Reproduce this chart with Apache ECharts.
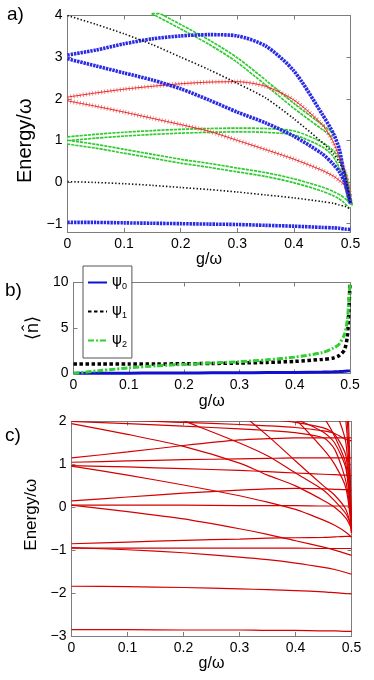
<!DOCTYPE html>
<html>
<head>
<meta charset="utf-8">
<script src="https://cdn.jsdelivr.net/npm/echarts@6/dist/echarts.min.js"></script>
<style>
  html, body { margin: 0; padding: 0; background: #fff; }
  #chart { width: 374px; height: 680px; }
</style>
</head>
<body>
<div id="chart"></div>
<script>
// ---- panel a) energy levels, values on the gA grid ----
const gA = [0, 0.05, 0.1, 0.15, 0.2, 0.25, 0.3, 0.35, 0.4, 0.45, 0.47, 0.48, 0.49, 0.5];
const blueGround = [-0.97, -0.97, -0.98, -0.99, -1.0, -1.01, -1.02, -1.04, -1.06, -1.09, -1.1, -1.11, -1.13, -1.14];
const blueUpper = [3.05, 3.17, 3.32, 3.44, 3.51, 3.54, 3.51, 3.27, 2.67, 1.63, 1.16, 0.8, 0.1, -0.5];
const blueLower = [2.96, 2.79, 2.62, 2.45, 2.24, 1.97, 1.68, 1.42, 1.1, 0.68, 0.42, 0.25, -0.02, -0.52];
const redUpper = [2.04, 2.14, 2.23, 2.3, 2.36, 2.4, 2.41, 2.3, 1.97, 1.38, 0.95, 0.6, 0.25, -0.37];
const redLower = [1.95, 1.82, 1.68, 1.53, 1.38, 1.22, 1.0, 0.78, 0.55, 0.28, 0.14, 0.04, -0.08, -0.4];
const greenUpper = [1.04, 1.1, 1.15, 1.19, 1.22, 1.24, 1.25, 1.24, 1.18, 0.9, 0.68, 0.45, 0.15, -0.58];
const greenLower = [0.96, 0.86, 0.74, 0.62, 0.5, 0.4, 0.29, 0.18, 0.03, -0.17, -0.28, -0.35, -0.45, -0.6];
const greenTop = [null, null, null, 4.09, 3.73, 3.36, 2.93, 2.39, 1.83, 1.32, 1.12, null, null, null];
const blackTop = [4.0, 3.79, 3.56, 3.3, 3.0, 2.7, 2.37, 2.02, 1.52, 0.95, 0.68, 0.48, 0.2, -0.55];
const blackBottom = [0.01, -0.01, -0.04, -0.08, -0.13, -0.18, -0.24, -0.31, -0.38, -0.47, -0.51, -0.55, -0.58, -0.65];
const ticksA = [-1, 0, 1, 2, 3, 4];

// ---- panel b) mean photon number ----
const gB = [0, 0.05, 0.1, 0.15, 0.2, 0.25, 0.3, 0.35, 0.4, 0.45, 0.47, 0.48, 0.49, 0.495, 0.498, 0.5];
const psi0 = [0.02, 0.03, 0.04, 0.05, 0.06, 0.07, 0.08, 0.1, 0.12, 0.16, 0.19, 0.21, 0.24, 0.27, 0.29, 0.32];
const psi1 = [1.05, 1.05, 1.05, 1.05, 1.07, 1.1, 1.15, 1.22, 1.33, 1.55, 1.7, 1.95, 2.6, 4.0, 7.0, 10];
const psi2 = [0.0, 0.33, 0.62, 0.84, 1.0, 1.15, 1.3, 1.5, 1.8, 2.3, 2.8, 3.2, 4.3, 5.8, 8.0, 10];

// ---- panel c) full spectrum, values on the gC grid ----
const gC = [0, 0.1, 0.2, 0.3, 0.35, 0.4, 0.45, 0.47, 0.49, 0.5];
const levelsLow = [
  [-2.85, -2.85, -2.86, -2.86, -2.87, -2.87, -2.88, -2.88, -2.89, -2.89],
  [-1.84, -1.85, -1.87, -1.9, -1.92, -1.94, -1.97, -1.99, -2.01, -2.02],
  [-0.94, -0.99, -1.06, -1.16, -1.22, -1.3, -1.4, -1.45, -1.52, -1.56],
  [-0.95, -0.95, -0.95, -0.95, -0.95, -0.95, -0.96, -0.96, -0.96, -0.96],
  [-0.85, -0.81, -0.77, -0.74, -0.72, -0.71, -0.7, -0.69, -0.68, -0.68]
];
const levelsMid = [
  [0.05, -0.1, -0.27, -0.5, -0.63, -0.78, -0.93, -1.0, -1.08, -1.12],
  [0.05, 0.05, 0.05, 0.04, 0.04, 0.04, 0.03, 0.03, 0.03, 0.03],
  [0.15, 0.24, 0.33, 0.4, 0.43, 0.44, 0.43, 0.42, 0.41, 0.4],
  [0.96, 0.75, 0.52, 0.27, 0.12, -0.05, -0.3, -0.42, -0.58, -0.7],
  [0.97, 0.94, 0.9, 0.86, 0.83, 0.8, 0.77, 0.76, 0.75, 0.74],
  [1.05, 1.08, 1.11, 1.13, 1.14, 1.15, 1.15, 1.15, 1.15, 1.15],
  [1.15, 1.29, 1.44, 1.57, 1.6, 1.62, 1.62, 1.62, 1.62, 1.62],
  [1.95, 1.7, 1.42, 1.03, 0.75, 0.5, 0.16, 0.0, -0.25, -0.5]
];
const levelsHigh = [
  [2.0, 1.95, 1.89, 1.83, 1.79, 1.74, 1.62, 1.35, 0.6, -0.4],
  [2.12, 2.03, 1.98, 1.93, 1.9, 1.86, 1.78, 1.72, 1.58, 1.55],
  [2.4, 2.3, 2.2, 2.1, 2.05, 1.98, 1.85, 1.7, 1.2, -0.45],
  [2.8, 2.7, 2.55, 2.35, 2.22, 2.05, 1.75, 1.5, 0.9, -0.5]
];
const levelsFan = [
  [3.0, 2.55, 2.02, 1.5, 1.2, 0.8, 0.4, 0.15, -0.15, -0.45],
  [4.5, 3.8, 3.1, 2.2, 1.67, 1.08, 0.5, 0.28, -0.05, -0.5],
  [5.0, 4.5, 3.9, 3.1, 2.6, 2.05, 1.35, 1.0, 0.45, -0.55],
  [6.0, 5.5, 4.8, 4.0, 3.5, 2.9, 2.1, 1.65, 1.0, -0.6],
  [7.0, 6.5, 5.8, 5.0, 4.5, 3.8, 2.8, 2.3, 1.5, -0.6],
  [8.0, 7.5, 6.8, 6.0, 5.5, 4.8, 3.6, 3.0, 2.0, -0.6],
  [9.0, 8.5, 7.8, 7.0, 6.4, 5.7, 4.5, 3.8, 2.5, -0.55],
  [10.0, 9.5, 8.8, 8.0, 7.5, 6.8, 5.5, 4.6, 3.2, -0.5]
];

const FONT = 'Liberation Sans, Arial, Helvetica, sans-serif';
const FRAME = '#7d7d7d';
const minus = v => String(v).replace('-', '\u2212');
const pairs = (xs, ys) => xs.map((x, i) => [x, ys[i]]);

const chart = echarts.init(document.getElementById('chart'));

// one grid = bottom/top x axes + left/right y axes (MATLAB box)
const grids = [
  { left: 67.5, right: 23.5, top: 15.5, height: 216.5 },
  { left: 73.5, right: 24, top: 282.5, height: 91 },
  { left: 71.5, right: 22.5, top: 421.5, height: 214.5 }
];
const xAxes = [];
const yAxes = [];
const tickStyle = { inside: true, length: 4, lineStyle: { color: FRAME } };
const lineStyleAx = { show: true, onZero: false, lineStyle: { color: FRAME, width: 1 } };

function addAxes(i, yCfg, xNameGap, yName, yNameGap, yNameSize, yNamePad) {
  const xBase = { gridIndex: i, type: 'value', min: 0, max: 0.5, interval: 0.1, splitLine: { show: false },
    axisLine: lineStyleAx, axisTick: tickStyle };
  xAxes.push(Object.assign({}, xBase, {
    position: 'bottom',
    axisLabel: { color: '#000', fontSize: 14, fontFamily: FONT, margin: 5 },
    name: 'g/\u03c9', nameLocation: 'middle', nameGap: xNameGap,
    nameTextStyle: { color: '#000', fontSize: 16, fontFamily: FONT }
  }));
  xAxes.push(Object.assign({}, xBase, { position: 'top', axisLabel: { show: false } }));
  const yBase = Object.assign({ gridIndex: i, type: 'value', splitLine: { show: false },
    axisLine: lineStyleAx }, yCfg);
  yAxes.push(Object.assign({}, yBase, {
    position: 'left',
    axisTick: Object.assign({}, tickStyle, yCfg.ticks ? { customValues: yCfg.ticks } : {}),
    axisLabel: Object.assign({ color: '#000', fontSize: 14, fontFamily: FONT, margin: 5, formatter: minus },
      yCfg.ticks ? { customValues: yCfg.ticks } : {}),
    name: yName, nameLocation: 'middle', nameGap: yNameGap,
    nameTextStyle: { color: '#000', fontSize: yNameSize, fontFamily: FONT, padding: yNamePad }
  }));
  yAxes.push(Object.assign({}, yBase, {
    position: 'right',
    axisTick: Object.assign({}, tickStyle, yCfg.ticks ? { customValues: yCfg.ticks } : {}),
    axisLabel: { show: false }
  }));
}

addAxes(0, { min: -1.2, max: 4, ticks: ticksA }, 18, 'Energy/\u03c9', 24, 20, [0, 34, 0, 0]);
addAxes(1, { min: 0, max: 10, interval: 5 }, 16, '\u27e8n\u0302\u27e9', 30, 18, 0);
addAxes(2, { min: -3, max: 2, interval: 1 }, 16, 'Energy/\u03c9', 25, 17, [0, 0, 0, 28]);

const series = [];
function addLine(grid, xs, ys, style, z, name) {
  series.push({
    name: name, type: 'line', xAxisIndex: grid * 2, yAxisIndex: grid * 2,
    data: pairs(xs, ys), symbol: 'none', smooth: 0.25,
    itemStyle: { color: style.color },
    lineStyle: style, z: z || 3, silent: true, animation: false
  });
}

// a) markers mimicked with dash patterns
const starStyle = { color: '#2a2ae6', width: 3.6, type: [2.4, 0.9] };
const crossThin = { color: '#e52626', width: 1 };
const crossBars = { color: 'rgba(236,70,70,0.7)', width: 4.5, type: [0.9, 2.2] };
const ringOuter = { color: '#2ccc2c', width: 5.5, type: [3.2, 0.9] };
const ringInner = { color: '#ffffff', width: 2.2 };
const dotStyle = { color: '#111', width: 1.6, type: [1.4, 2.0] };

[greenUpper, greenLower, greenTop].forEach(ys => {
  addLine(0, gA, ys, ringOuter, 2);
  addLine(0, gA, ys, ringInner, 2.5);
});
[redUpper, redLower].forEach(ys => {
  addLine(0, gA, ys, crossBars, 3);
  addLine(0, gA, ys, crossThin, 3);
});
[blueGround, blueUpper, blueLower].forEach(ys => addLine(0, gA, ys, starStyle, 4));
[blackTop, blackBottom].forEach(ys => addLine(0, gA, ys, dotStyle, 5));

// b)
addLine(1, gB, psi0, { color: '#1010d0', width: 3 }, 3, 'psi0');
addLine(1, gB, psi1, { color: '#000', width: 3.5, type: [3.5, 2.5] }, 3, 'psi1');
addLine(1, gB, psi2, { color: '#2ed02e', width: 3, type: [6, 2, 2, 2] }, 4, 'psi2');

// c)
[levelsLow, levelsMid, levelsHigh, levelsFan].forEach(group =>
  group.forEach(ys => addLine(2, gC, ys, { color: '#d60000', width: 1.2 }, 3)));

const option = {
  animation: false,
  grid: grids,
  xAxis: xAxes,
  yAxis: yAxes,
  legend: {
    orient: 'vertical', left: 83, top: 266, data: ['psi0', 'psi1', 'psi2'],
    selectedMode: false, itemWidth: 19, itemHeight: 12, itemGap: 13,
    padding: [9, 5, 9, 4], borderColor: '#555', borderWidth: 1, backgroundColor: '#fff',
    itemStyle: { opacity: 0 },
    formatter: n => '{p|\u03c8}{s|' + n.slice(3) + '}',
    textStyle: {
      color: '#000',
      rich: {
        p: { fontSize: 15, fontFamily: 'DejaVu Sans' },
        s: { fontSize: 9, fontFamily: FONT, padding: [8, 0, 0, 0] }
      }
    }
  },
  graphic: [
    { type: 'text', left: 7, top: 5, style: { text: 'a)', fontSize: 19, fontFamily: FONT, fill: '#000' } },
    { type: 'text', left: 5, top: 281, style: { text: 'b)', fontSize: 19, fontFamily: FONT, fill: '#000' } },
    { type: 'text', left: 5, top: 426, style: { text: 'c)', fontSize: 19, fontFamily: FONT, fill: '#000' } }
  ],
  series: series
};

chart.setOption(option);
</script>
</body>
</html>
